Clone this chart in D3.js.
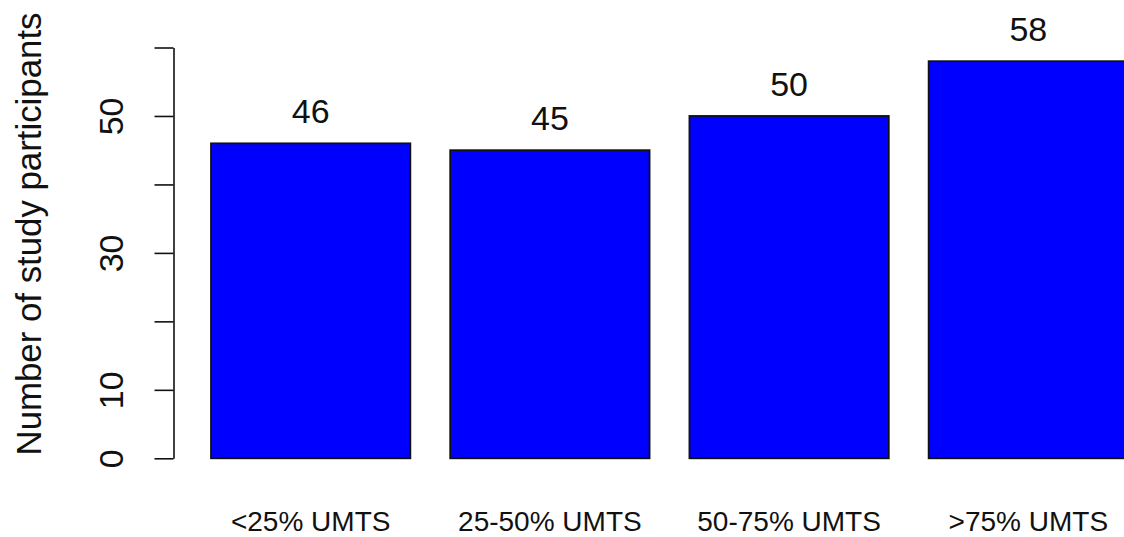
<!DOCTYPE html>
<html>
<head>
<meta charset="utf-8">
<script src="https://cdn.jsdelivr.net/npm/d3@7"></script>
<style>
  html, body { margin: 0; padding: 0; background: #fff; }
  svg { display: block; font-family: "Liberation Sans", Arial, sans-serif; }
</style>
</head>
<body>
<svg id="chart" width="1124" height="537"></svg>
<script>
const categories = ["<25% UMTS", "25-50% UMTS", "50-75% UMTS", ">75% UMTS"];
const values = [46, 45, 50, 58];
const yTicks = [0, 10, 20, 30, 40, 50, 60];
const yTickLabels = [0, 10, 30, 50];
const yTitle = "Number of study participants";

const svg = d3.select("#chart");

const x = d3.scaleBand()
  .domain(categories)
  .range([211, 1128])
  .paddingInner(1 / 6)
  .paddingOuter(0);

const y = d3.scaleLinear().domain([0, 60]).range([458.3, 47.5]);

// Bars
svg.append("g").selectAll("rect")
  .data(values)
  .join("rect")
  .attr("x", (d, i) => x(categories[i]))
  .attr("y", d => y(d))
  .attr("width", x.bandwidth())
  .attr("height", d => y(0) - y(d))
  .attr("fill", "#0000ff")
  .attr("stroke", "#111")
  .attr("stroke-width", 1.8);

// Value labels
svg.append("g").selectAll("text")
  .data(values)
  .join("text")
  .attr("x", (d, i) => x(categories[i]) + x.bandwidth() / 2)
  .attr("y", d => y(d) - 20)
  .attr("text-anchor", "middle")
  .attr("font-size", 34)
  .attr("fill", "#111")
  .text(d => d);

// Category labels
svg.append("g").selectAll("text")
  .data(categories)
  .join("text")
  .attr("x", d => x(d) + x.bandwidth() / 2)
  .attr("y", 531)
  .attr("text-anchor", "middle")
  .attr("font-size", 28)
  .attr("fill", "#111")
  .text(d => d);

// Y axis
const axisX = 173.5;
const yAxis = d3.axisLeft(y)
  .tickValues(yTicks)
  .tickSize(19)
  .tickSizeOuter(0)
  .tickFormat(d => yTickLabels.includes(d) ? String(d) : "");

const gAxis = svg.append("g")
  .attr("transform", `translate(${axisX},0)`)
  .call(yAxis);

gAxis.select(".domain").attr("stroke", "#111").attr("stroke-width", 1.6);
gAxis.selectAll(".tick line").attr("stroke", "#111").attr("stroke-width", 1.6);
gAxis.selectAll(".tick text")
  .attr("x", null)
  .attr("dy", null)
  .attr("text-anchor", "middle")
  .attr("transform", `translate(${123 - axisX},0) rotate(-90)`)
  .attr("font-size", 34)
  .attr("font-family", "Liberation Sans, Arial, sans-serif")
  .attr("fill", "#111");

// Y title
svg.append("text")
  .attr("transform", `translate(41,234) rotate(-90)`)
  .attr("text-anchor", "middle")
  .attr("font-size", 34.8)
  .attr("fill", "#111")
  .text(yTitle);
</script>
</body>
</html>
